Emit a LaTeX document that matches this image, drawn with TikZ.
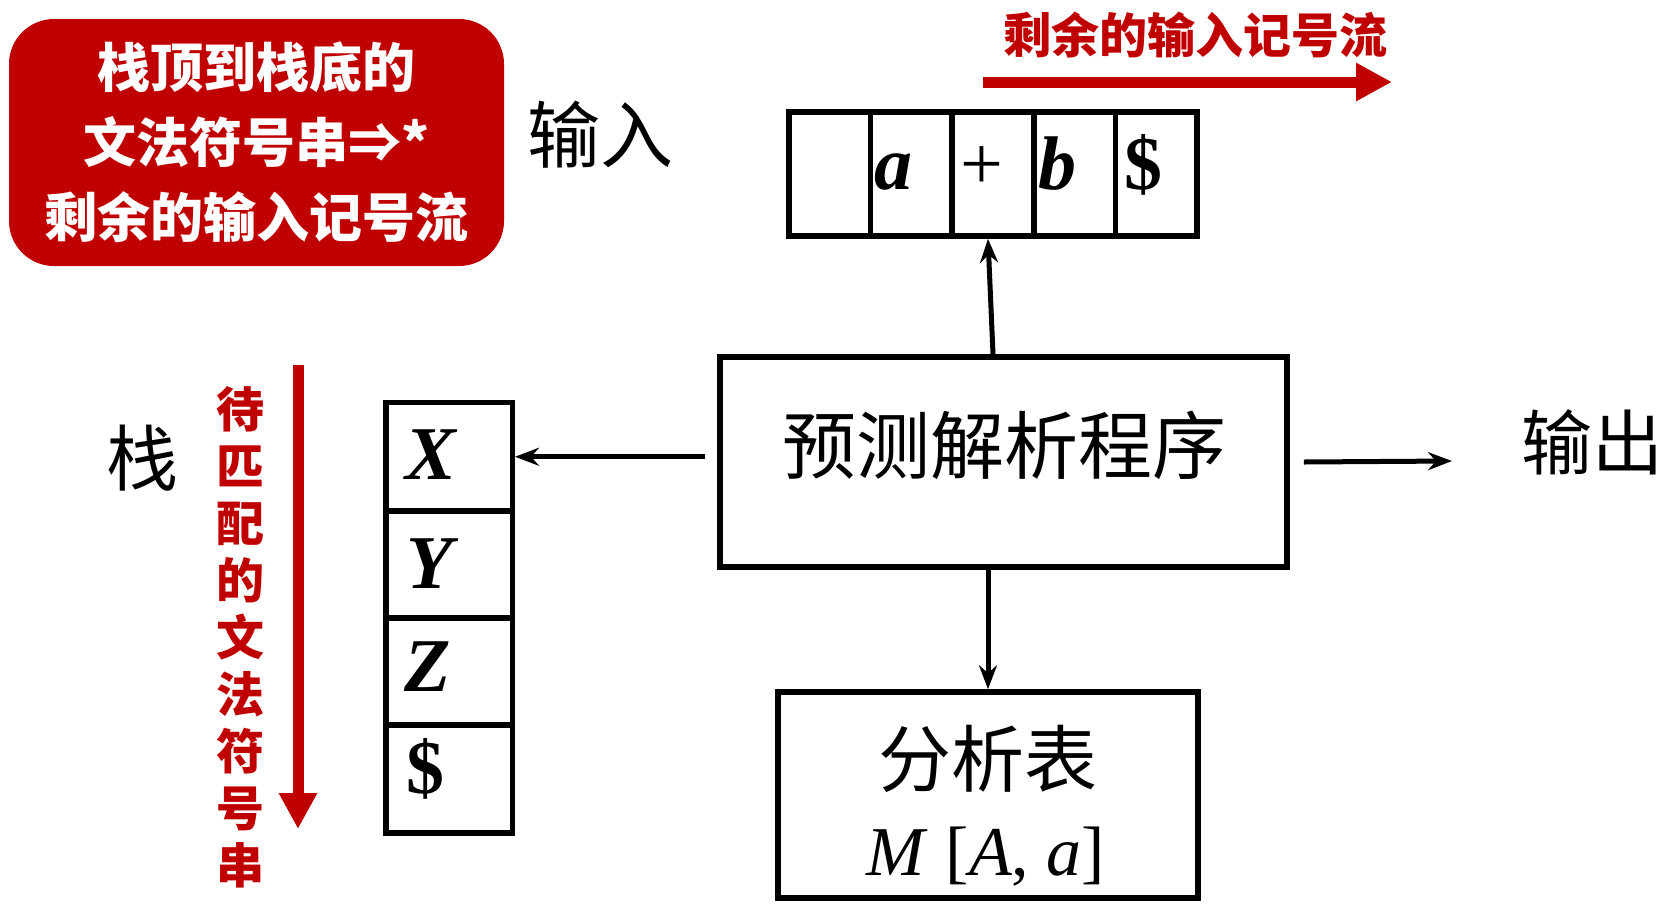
\documentclass[tikz,border=0pt]{standalone}
\usepackage{fontspec}
\setmainfont{Liberation Serif}
\newfontfamily\cjk{Noto Sans CJK SC}
\usetikzlibrary{arrows.meta}
\definecolor{myred}{HTML}{C00000}
\begin{document}
\begin{tikzpicture}[x=1pt,y=-1pt,
  box/.style={draw, line width=5.5pt, inner sep=0pt},
  lbl/.style={inner sep=0pt},
  arr/.style={line width=5pt, -{Stealth[length=24pt,width=18pt,inset=8pt]}},
  redarr/.style={myred, line width=11pt, -{Triangle[length=36pt,width=36pt]}},
  cjkt/.style={lbl, font=\cjk\fontsize{#1}{#1}\selectfont},
  redt/.style={lbl, text=myred, align=center, font=\cjk\bfseries\fontsize{48}{57}\selectfont},
  ltr/.style={lbl, anchor=base, font=\fontsize{76}{76}\selectfont\bfseries\itshape}
]
\useasboundingbox (0,0) rectangle (1670,903);

% red note box
\node[fill=myred, rounded corners=45pt, minimum width=495pt, minimum height=247pt,
  inner sep=0pt, text=white, align=center,
  font=\cjk\bfseries\fontsize{53}{75}\selectfont] (note) at (256.5,142.5)
  {栈顶到栈底的\\文法符号串⇒*\\剩余的输入记号流};

% input label
\node[cjkt=73] (inlbl) at (600,135) {输入};

% red top label and arrow
\node[redt] (toplbl) at (1195,35) {剩余的输入记号流};
\coordinate (ta) at (983,82);
\coordinate (tb) at (1392,82);
\draw[redarr] (ta) -- (tb);

% input tape
\node[box, minimum width=81.6pt, minimum height=124pt] (c1) at (829.8,174) {};
\node[box, minimum width=81.6pt, minimum height=124pt] (c2) at (911.4,174) {};
\node[box, minimum width=81.6pt, minimum height=124pt] (c3) at (993.0,174) {};
\node[box, minimum width=81.6pt, minimum height=124pt] (c4) at (1074.6,174) {};
\node[box, minimum width=81.6pt, minimum height=124pt] (c5) at (1156.2,174) {};
\node[ltr] (ta1) at (893,189) {a};
\node[lbl, anchor=base, font=\fontsize{76}{76}\selectfont] (ta2) at (982,189) {+};
\node[ltr] (ta3) at (1057,189) {b};
\node[ltr, font=\fontsize{76}{76}\selectfont\bfseries] (ta4) at (1143,189) {\$};

% main box
\node[box, minimum width=567pt, minimum height=210pt] (main) at (1003.5,462) {};
\node[cjkt=74] (mainlbl) at (1004,445) {预测解析程序};

% output
\node[cjkt=71] (out) at (1592,442) {输出};
\coordinate (outend) at (1452,461);

% table box
\node[box, minimum width=420pt, minimum height=206pt] (tab) at (988,795) {};
\node[cjkt=73] (tablbl) at (988,759) {分析表};
\node[lbl, anchor=base, font=\fontsize{70}{70}\selectfont] (tabm) at (986,875)
  {\textit{M} [\textit{A}, \textit{a}]};

% stack
\node[box, minimum width=126.5pt, minimum height=108.5pt] (s1) at (449,456.75) {};
\node[box, minimum width=126.5pt, minimum height=107pt] (s2) at (449,564.5) {};
\node[box, minimum width=126.5pt, minimum height=107pt] (s3) at (449,671.5) {};
\node[box, minimum width=126.5pt, minimum height=108pt] (s4) at (449,779) {};
\node[ltr] (sx) at (431,479) {X};
\node[ltr] (sy) at (430,588) {Y};
\node[ltr] (sz) at (428,691) {Z};
\node[ltr, font=\fontsize{76}{76}\selectfont\bfseries] (sd) at (425,793) {\$};

\node[cjkt=72] (stk) at (142,458) {栈};

% red vertical label and arrow
\node[redt] (vlbl) at (240,637.5) {待\\匹\\配\\的\\文\\法\\符\\号\\串};
\coordinate (va) at (298,365);
\coordinate (vb) at (298,829);
\draw[redarr] (va) -- (vb);

% connectors
\draw[arr] (main.north -| c3) -- ([xshift=-5pt]c3.south);
\draw[arr] ([xshift=-12pt]main.west |- s1.east) -- (s1.east);
\draw[arr] ([xshift=14pt]main.east) -- (outend);
\draw[arr] (main.south -| tab.north) -- (tab.north);
\end{tikzpicture}
\end{document}
